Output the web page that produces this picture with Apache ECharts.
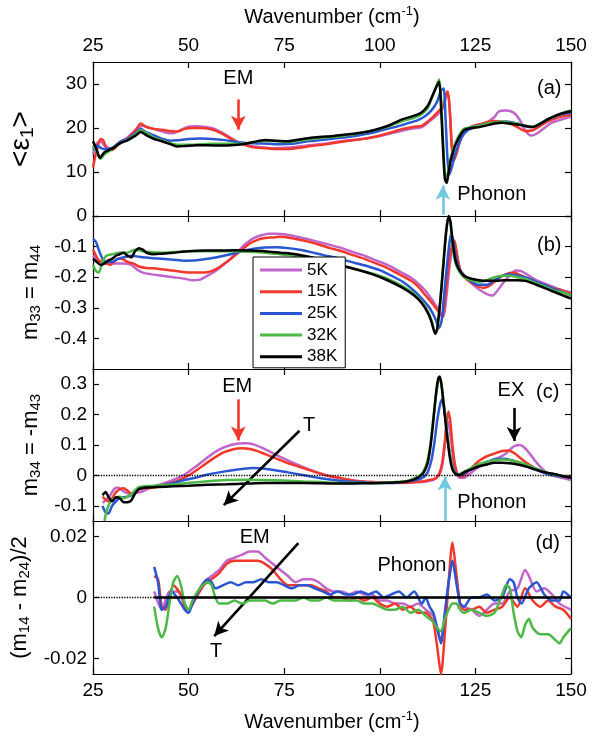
<!DOCTYPE html>
<html><head><meta charset="utf-8">
<script src="https://cdn.jsdelivr.net/npm/echarts@6/dist/echarts.min.js"></script>
<style>html,body{margin:0;padding:0;background:#fff}#c{width:606px;height:738px}</style>
</head><body><div id="c"></div>
<script>
// ---------- DATA ----------
const tempLabels = ['5K', '15K', '25K', '32K', '38K'];
const xTicks = [25, 50, 75, 100, 125, 150];
const yTicksA = [0, 10, 20, 30];
const yTicksB = [-0.4, -0.3, -0.2, -0.1];
const yTicksC = [-0.1, 0, 0.1, 0.2, 0.3];
const yTicksD = [-0.02, 0, 0.02];

// Panel (a) <eps1>
const a5K = [[25,14],[26,16.5],[27,17],[28,16],[30,15.2],[32,16.8],[34,17.8],[36,19.5],[38,20.5],[40,20],[42,19.5],[44,19],[46,18.8],[48,19.6],[50,20.3],[52,20.4],[54,20.3],[56,20],[58,19.3],[60,18.3],[62,17.2],[64,16.4],[66,15.9],[69,15.6],[72,15.4],[75,15.5],[78,15.7],[81,16],[84,16.3],[87,16.6],[90,17],[93,17.3],[96,17.6],[99,18],[102,18.6],[105,19.2],[108,19.8],[111,20.2],[113,21.5],[115,23],[116.5,24.5],[117.3,27],[117.8,28],[118.3,24],[118.8,16.5],[119.3,13],[120,14.5],[121,17.5],[122,19.2],[124,20.3],[126,20.8],[128,21.3],[130,22.5],[131,23.7],[133,24],[135,23.5],[136.5,22],[138,19.5],[139.5,18.3],[141,18.7],[143,20],[145,21.2],[147,21.8],[150,22.6]];
const a15K = [[25,11],[25.7,14],[26.3,16],[27,17.5],[27.7,17.2],[28.5,15.5],[30,15],[32,16.5],[34,17.6],[36,19.3],[37.5,21],[39,20.2],[41,19.8],[43,19.6],[45,19.3],[47,19.2],[49,19.8],[51,20],[53,20],[55,19.9],[57,19.4],[59,18.6],[61,17.6],[63,16.7],[65,16.1],[67,15.6],[70,15.4],[73,15.2],[76,15.2],[79,15.5],[82,15.9],[85,16.2],[88,16.6],[91,17],[94,17.3],[97,17.7],[100,18.3],[103,19],[106,19.8],[109,20.3],[111,20.5],[113,21.8],[115,23.5],[116.5,25],[117.3,27.5],[117.8,28.3],[118.3,24],[118.8,16],[119.3,12.5],[120,14],[121,17],[122,19],[124,20.3],[126,20.8],[128,21.3],[130,21.6],[132,21.4],[134,21],[136,20.2],[138,19.3],[140,19.5],[142,20.5],[144,21.5],[146,22.2],[148,22.7],[150,23]];
const a25K = [[25,15],[26,16],[27,15.5],[28,15.2],[30,15.5],[32,16.8],[34,17.5],[36,18.8],[37.5,19.8],[39,19],[41,18.3],[43,17.6],[45,17.1],[47,17.2],[50,17.5],[53,17.6],[56,17.5],[59,17.3],[62,16.9],[65,16.6],[68,16.5],[71,16.4],[74,16.3],[77,16.4],[80,16.8],[83,17.1],[86,17.4],[89,17.7],[92,18],[95,18.4],[98,18.9],[101,19.6],[104,20.2],[107,21],[110,21.8],[112,22.8],[113.5,24],[115,26],[116,28.5],[116.7,29],[117.2,22],[117.7,13],[118.2,9.5],[118.8,11],[119.5,13.5],[120.5,16],[121.5,18],[123,19.5],[125,20.2],[127,20.8],[129,21],[131,21.3],[133,21.5],[135,21.2],[137,20.7],[139,20.2],[141,20.5],[143,21.5],[145,22.3],[147,23],[150,23.5]];
const a32K = [[25,16],[26,14.5],[27,13],[28,14],[30,15.2],[32,16.5],[34,17.3],[36,18.5],[37.5,19.5],[39,18.8],[41,17.8],[43,17.2],[45,16.6],[47,16.2],[50,16.2],[53,16.3],[56,16.4],[60,16.4],[64,16.4],[67,16.8],[70,17.1],[73,17],[76,16.8],[79,17.1],[82,17.5],[85,17.8],[88,18],[91,18.3],[94,18.7],[97,19.2],[100,19.8],[103,20.6],[106,21.6],[109,22.3],[111,23.2],[112.5,24.5],[113.5,26.5],[114.5,28.8],[115.5,31],[116,27],[116.5,18],[117,10],[117.5,8.5],[118,10.5],[118.5,13],[119.5,16],[120.5,18],[122,19.8],[124,20.2],[126,20.5],[128,21],[130,21.2],[132,21.5],[134,21.2],[136,21],[138,20.5],[140,20.3],[142,21],[144,22],[146,22.8],[148,23.5],[150,24]];
const a38K = [[25,17],[26,15],[26.8,13.2],[28,14.5],[30,15.3],[32,16.5],[34,17.2],[36,18.2],[37.5,19.1],[39,18.3],[41,17.5],[43,17],[45,16.4],[47,15.8],[49,15.9],[52,16.1],[55,16.1],[58,16],[61,16.1],[64,16.3],[67,16.8],[70,17.3],[73,17.1],[76,17],[79,17.4],[82,17.8],[85,18],[88,18.2],[91,18.5],[94,18.8],[97,19.2],[100,19.9],[103,20.8],[106,22],[109,22.8],[111,23.6],[112.5,25],[113.5,26.8],[114.5,28.8],[115.5,30.5],[116,25],[116.5,16],[117,8.5],[117.5,7.5],[118,10],[118.5,12.5],[119.5,15.5],[120.5,17.5],[122,19.5],[124,20],[126,20.2],[128,20.6],[130,21],[132,21.2],[134,21],[136,20.8],[138,20.5],[140,20.2],[142,21],[144,22],[146,22.8],[148,23.4],[150,23.8]];

// Panel (b) m33 = m44
const b5K = [[25,-0.13],[26,-0.14],[27,-0.15],[28,-0.155],[29.5,-0.155],[31,-0.155],[33,-0.155],[35,-0.16],[36.5,-0.175],[38,-0.185],[40,-0.19],[43,-0.195],[46,-0.2],[49,-0.205],[51,-0.21],[53,-0.208],[55,-0.195],[57,-0.18],[59,-0.16],[61,-0.14],[63,-0.115],[65,-0.09],[67,-0.072],[69,-0.063],[71,-0.058],[73,-0.058],[75,-0.06],[78,-0.067],[81,-0.075],[84,-0.085],[87,-0.095],[90,-0.105],[93,-0.118],[96,-0.13],[99,-0.145],[102,-0.16],[105,-0.18],[108,-0.2],[110,-0.22],[112,-0.245],[114,-0.28],[115.5,-0.31],[116.5,-0.33],[117,-0.31],[117.7,-0.23],[118.4,-0.15],[119.2,-0.1],[119.7,-0.1],[120.3,-0.14],[121,-0.175],[122.5,-0.2],[124,-0.22],[126,-0.24],[128,-0.255],[129.5,-0.26],[131,-0.24],[132.5,-0.215],[134,-0.195],[135.5,-0.178],[137,-0.18],[139,-0.195],[141,-0.21],[143,-0.22],[145,-0.23],[147,-0.24],[150,-0.25]];
const b15K = [[25,-0.11],[25.8,-0.13],[26.5,-0.145],[27.5,-0.15],[28.5,-0.155],[29.5,-0.16],[30.5,-0.15],[31.5,-0.14],[32.5,-0.14],[34,-0.15],[35.5,-0.155],[37,-0.165],[39,-0.17],[42,-0.172],[45,-0.177],[48,-0.182],[51,-0.185],[54,-0.185],[56,-0.18],[58,-0.168],[60,-0.15],[62,-0.13],[64,-0.11],[66,-0.09],[68,-0.078],[70,-0.072],[72,-0.07],[74,-0.068],[76,-0.07],[78,-0.075],[81,-0.083],[84,-0.093],[87,-0.105],[90,-0.115],[93,-0.128],[96,-0.14],[99,-0.155],[102,-0.17],[105,-0.19],[108,-0.21],[110,-0.23],[112,-0.26],[114,-0.29],[115.5,-0.315],[116.3,-0.33],[116.8,-0.3],[117.5,-0.22],[118.2,-0.14],[119,-0.09],[119.5,-0.08],[120,-0.11],[120.7,-0.16],[121.5,-0.19],[123,-0.21],[125,-0.225],[127,-0.235],[129,-0.225],[131,-0.205],[133,-0.19],[135,-0.185],[137,-0.195],[139,-0.205],[141,-0.215],[143,-0.225],[145,-0.235],[147,-0.24],[150,-0.255]];
const b25K = [[25,-0.075],[25.8,-0.085],[26.5,-0.11],[27.5,-0.14],[28.5,-0.15],[30,-0.15],[31.5,-0.14],[33,-0.135],[35,-0.13],[37,-0.133],[40,-0.137],[43,-0.14],[46,-0.143],[49,-0.146],[52,-0.145],[55,-0.14],[58,-0.133],[61,-0.125],[64,-0.115],[67,-0.107],[70,-0.103],[73,-0.102],[76,-0.105],[79,-0.11],[82,-0.118],[85,-0.127],[88,-0.135],[91,-0.145],[94,-0.155],[97,-0.165],[100,-0.177],[103,-0.195],[106,-0.215],[109,-0.245],[111,-0.27],[113,-0.3],[114.5,-0.335],[115.5,-0.365],[116.2,-0.34],[116.8,-0.26],[117.5,-0.17],[118.3,-0.08],[118.8,-0.06],[119.3,-0.09],[120,-0.14],[121,-0.18],[122.5,-0.2],[124,-0.215],[126,-0.225],[128,-0.225],[130,-0.21],[132,-0.195],[134,-0.19],[136,-0.195],[138,-0.2],[140,-0.21],[142,-0.22],[144,-0.23],[146,-0.24],[148,-0.25],[150,-0.26]];
const b32K = [[25,-0.16],[25.8,-0.18],[26.5,-0.185],[27.5,-0.15],[28.5,-0.13],[30,-0.125],[32,-0.12],[34,-0.12],[35,-0.115],[36,-0.11],[38,-0.115],[40,-0.118],[43,-0.12],[46,-0.118],[50,-0.115],[54,-0.115],[58,-0.115],[62,-0.115],[66,-0.117],[70,-0.12],[74,-0.125],[78,-0.13],[82,-0.14],[86,-0.15],[90,-0.162],[94,-0.175],[98,-0.188],[102,-0.205],[106,-0.23],[109,-0.255],[111,-0.28],[112.5,-0.31],[113.5,-0.34],[114.5,-0.38],[115,-0.37],[115.8,-0.28],[116.5,-0.17],[117.3,-0.05],[118,0],[118.5,-0.03],[119,-0.09],[119.7,-0.15],[120.5,-0.175],[122,-0.2],[124,-0.21],[126,-0.215],[128,-0.21],[130,-0.2],[132,-0.195],[134,-0.195],[136,-0.2],[138,-0.205],[140,-0.215],[142,-0.225],[144,-0.235],[146,-0.245],[148,-0.25],[150,-0.26]];
const b38K = [[25,-0.14],[26,-0.15],[27,-0.16],[28,-0.155],[29,-0.145],[30,-0.14],[31,-0.13],[32,-0.125],[33,-0.12],[34,-0.13],[35,-0.135],[36,-0.115],[37,-0.105],[38,-0.11],[39,-0.12],[41,-0.125],[43,-0.123],[46,-0.12],[50,-0.115],[54,-0.113],[58,-0.113],[62,-0.112],[66,-0.113],[70,-0.115],[74,-0.12],[78,-0.125],[82,-0.135],[86,-0.148],[90,-0.162],[94,-0.175],[98,-0.19],[102,-0.21],[106,-0.235],[109,-0.26],[111,-0.285],[112.5,-0.315],[113.5,-0.345],[114.5,-0.385],[115,-0.37],[115.8,-0.28],[116.5,-0.18],[117.3,-0.06],[118,0],[118.5,-0.02],[119,-0.08],[119.7,-0.14],[120.5,-0.17],[122,-0.195],[124,-0.205],[126,-0.21],[128,-0.212],[130,-0.212],[133,-0.21],[136,-0.21],[138,-0.212],[140,-0.22],[142,-0.23],[144,-0.24],[146,-0.25],[148,-0.26],[150,-0.27]];

// Panel (c) m34 = -m43
const c5K = [[27.5,-0.09],[28.5,-0.08],[29.5,-0.065],[30.5,-0.045],[31.5,-0.04],[32.5,-0.048],[33.5,-0.056],[34.5,-0.06],[36,-0.058],[38,-0.052],[40,-0.04],[43,-0.028],[46,-0.015],[49,0.003],[52,0.03],[55,0.06],[58,0.085],[61,0.1],[63,0.105],[65,0.106],[67,0.102],[69,0.092],[71,0.08],[73,0.067],[75,0.055],[78,0.038],[81,0.022],[84,0.008],[87,-0.003],[90,-0.01],[94,-0.018],[98,-0.022],[102,-0.024],[106,-0.025],[109,-0.023],[112,-0.02],[114,-0.015],[115.5,0],[116.3,0.03],[117,0.1],[117.7,0.18],[118.3,0.15],[118.9,0.09],[119.5,0.03],[120.3,0],[121,-0.008],[122,-0.008],[123.5,0.005],[125,0.02],[127,0.035],[129,0.048],[131,0.058],[133,0.072],[134.5,0.09],[135.5,0.098],[136.5,0.1],[137.5,0.095],[139,0.075],[140.5,0.05],[142,0.028],[143.5,0.01],[145,0],[147,-0.006],[150,-0.015]];
const c15K = [[27.5,-0.07],[28.3,-0.08],[29,-0.085],[30,-0.075],[31,-0.055],[32,-0.045],[33,-0.042],[34,-0.05],[35,-0.06],[36,-0.055],[37,-0.045],[39,-0.042],[41,-0.04],[44,-0.03],[47,-0.018],[50,0],[53,0.025],[56,0.052],[59,0.075],[62,0.087],[64,0.089],[66,0.087],[68,0.08],[70,0.07],[72,0.06],[75,0.045],[78,0.032],[81,0.02],[84,0.008],[87,-0.003],[90,-0.01],[94,-0.018],[98,-0.022],[102,-0.024],[106,-0.024],[109,-0.022],[111,-0.02],[113,-0.015],[114.5,-0.01],[115.5,0.005],[116.3,0.04],[117,0.11],[117.5,0.18],[118,0.21],[118.5,0.17],[119,0.1],[119.6,0.04],[120.3,0.005],[121.2,-0.005],[122.5,0.005],[124,0.025],[126,0.048],[128,0.063],[130,0.072],[132,0.08],[133.5,0.082],[135,0.075],[136.5,0.06],[138,0.045],[140,0.028],[142,0.015],[144,0.006],[146,0.002],[148,-0.003],[150,-0.005]];
const c25K = [[27.5,-0.1],[28.2,-0.12],[29,-0.125],[30,-0.1],[31,-0.085],[32,-0.075],[33,-0.072],[34,-0.07],[35,-0.065],[36,-0.05],[37,-0.042],[40,-0.037],[43,-0.033],[46,-0.025],[49,-0.015],[52,-0.007],[55,0.003],[58,0.01],[61,0.016],[64,0.021],[67,0.024],[70,0.022],[73,0.016],[76,0.01],[79,0.003],[82,-0.004],[85,-0.01],[88,-0.015],[91,-0.019],[94,-0.022],[97,-0.024],[100,-0.025],[104,-0.024],[107,-0.02],[110,-0.014],[111.5,-0.005],[112.5,0.01],[113.5,0.05],[114.3,0.11],[115,0.18],[115.8,0.235],[116.3,0.25],[116.9,0.22],[117.5,0.15],[118.2,0.08],[119,0.03],[120,0.005],[121,0],[122.5,0.01],[124.5,0.025],[126.5,0.037],[128.5,0.047],[130.5,0.054],[132.5,0.055],[134.5,0.05],[136.5,0.042],[138.5,0.032],[140.5,0.02],[142.5,0.01],[144.5,0.002],[146.5,-0.002],[148,-0.004],[150,-0.006]];
const c32K = [[28,-0.15],[28.5,-0.12],[29.2,-0.095],[30,-0.08],[31,-0.072],[32,-0.07],[33,-0.075],[34,-0.07],[35,-0.062],[36,-0.05],[37,-0.038],[39,-0.035],[42,-0.033],[46,-0.03],[50,-0.025],[55,-0.019],[60,-0.015],[65,-0.014],[70,-0.015],[75,-0.017],[80,-0.02],[85,-0.022],[90,-0.025],[95,-0.025],[100,-0.025],[104,-0.022],[107,-0.018],[109,-0.01],[110.5,0],[111.5,0.015],[112.5,0.05],[113.3,0.11],[114,0.19],[114.8,0.27],[115.5,0.315],[116,0.31],[116.6,0.25],[117.3,0.17],[118,0.1],[118.7,0.04],[119.5,0.01],[120.5,0.003],[122,0.012],[124,0.025],[126,0.037],[128,0.045],[130,0.05],[132,0.052],[134,0.05],[136,0.045],[138,0.037],[140,0.027],[142,0.017],[144,0.008],[146,0.002],[148,-0.003],[150,-0.007]];
const c38K = [[27.5,-0.065],[28.3,-0.055],[29,-0.07],[30,-0.085],[31,-0.072],[32,-0.075],[33,-0.088],[34,-0.088],[35,-0.082],[36,-0.06],[37,-0.045],[39,-0.04],[42,-0.038],[46,-0.036],[50,-0.034],[55,-0.031],[60,-0.029],[65,-0.027],[70,-0.025],[75,-0.025],[80,-0.025],[85,-0.026],[90,-0.027],[95,-0.026],[100,-0.025],[104,-0.023],[107,-0.02],[109,-0.013],[110.5,-0.003],[111.5,0.01],[112.5,0.04],[113.3,0.1],[114,0.18],[114.7,0.27],[115.3,0.32],[115.7,0.325],[116.2,0.29],[116.8,0.22],[117.5,0.14],[118.3,0.06],[119,0.02],[120,0.003],[121,0.002],[122,0.01],[124,0.02],[126,0.03],[128,0.036],[130,0.042],[132,0.042],[134,0.04],[136,0.036],[138,0.03],[140,0.022],[142,0.014],[144,0.008],[146,0.004],[148,-0.003],[150,-0.008]];

// Panel (d) (m14 - m24)/2
const d5K = [[41,0.002],[43,-0.004],[45,0.002],[47,0.002],[50,-0.004],[52,0.001],[54,0.005],[56,0.007],[58,0.009],[60,0.012],[62,0.013],[64,0.014],[66,0.015],[68,0.015],[70,0.013],[72,0.011],[74,0.009],[76,0.007],[78,0.005],[80,0.006],[82,0.006],[84,0.005],[86,0.003],[88,0.002],[90,0.002],[92,0.001],[94,0.002],[96,0.001],[98,0.001],[100,-0.001],[102,-0.001],[104,-0.002],[106,-0.002],[108,-0.003],[110,-0.002],[112,-0.004],[114,-0.006],[115,-0.01],[116,-0.014],[117,-0.006],[118,0.005],[119,0.012],[120,0.006],[121,-0.002],[122,-0.003],[124,-0.004],[126,-0.006],[128,-0.004],[130,-0.002],[132,-0.002],[134,0.002],[136,0.003],[138,0.009],[139,0.007],[141,0.002],[143,0.003],[145,0.001],[147,-0.002],[150,-0.004]];
const d15K = [[41,0.007],[42,0.006],[43,-0.003],[44,-0.004],[46,0.004],[48,0.001],[49,-0.003],[50,-0.004],[52,0],[54,0.004],[56,0.006],[58,0.008],[60,0.011],[62,0.012],[64,0.012],[66,0.012],[68,0.012],[70,0.011],[72,0.009],[74,0.006],[76,0.004],[78,0.004],[80,0.004],[82,0.004],[84,0.003],[86,0.002],[88,0],[90,0],[92,-0.001],[94,0],[96,-0.001],[98,0],[100,-0.002],[102,-0.003],[104,-0.002],[106,-0.004],[108,-0.003],[110,-0.005],[112,-0.005],[113,-0.006],[114,-0.008],[115,-0.016],[116,-0.025],[117,-0.012],[118,0.005],[119,0.018],[120,0.008],[121,-0.002],[122,-0.004],[124,-0.004],[126,-0.003],[128,-0.005],[130,-0.004],[132,-0.003],[134,0],[136,-0.003],[138,0.003],[140,-0.001],[142,-0.003],[144,-0.001],[146,-0.003],[148,-0.004],[150,-0.007]];
const d25K = [[41,0.01],[42,0.005],[43,-0.004],[44,-0.003],[45.5,0.002],[47,0],[49,-0.004],[50,-0.005],[51,-0.002],[53,0.003],[55,0.006],[56,0.005],[57,0.003],[59,0.004],[61,0.005],[63,0.004],[65,0.005],[67,0.005],[69,0.006],[71,0.005],[73,0.005],[75,0.004],[77,0.003],[79,0.004],[81,0.004],[83,0.003],[85,0.002],[87,0.001],[89,0.002],[91,0.001],[93,0.001],[95,0.002],[97,0.001],[99,0.002],[101,0],[103,0.001],[105,0.002],[107,0],[109,0.002],[111,-0.002],[112,0],[113,-0.003],[114,-0.005],[115,-0.01],[116,-0.015],[117,-0.005],[118,0.005],[119,0.012],[120,0.005],[121,-0.002],[122,-0.003],[124,0],[126,0],[128,0.001],[130,-0.001],[132,0],[134,0.006],[135,0.005],[136,0],[137,-0.002],[139,0.003],[141,0.005],[143,0.001],[145,-0.001],[147,-0.001],[148,0.002],[150,0]];
const d32K = [[41,-0.003],[42,-0.01],[43,-0.013],[44,-0.01],[45,-0.002],[46,0.005],[47,0.007],[48,0.004],[49,-0.002],[50,-0.004],[51,-0.001],[53,0.003],[55,0.005],[56,0.004],[57,0],[58,-0.002],[60,-0.002],[62,-0.001],[64,-0.002],[66,-0.001],[68,-0.001],[70,-0.001],[72,-0.002],[74,-0.001],[76,-0.001],[78,-0.001],[80,0],[82,-0.001],[84,-0.001],[86,0],[88,-0.001],[90,-0.001],[92,-0.001],[94,-0.001],[96,-0.002],[98,-0.002],[100,-0.003],[102,-0.004],[104,-0.004],[106,-0.003],[108,-0.005],[110,-0.004],[112,-0.006],[114,-0.008],[115,-0.01],[116,-0.011],[117,-0.007],[118,-0.004],[119,-0.002],[120,-0.002],[121,-0.004],[122,-0.005],[124,-0.004],[126,-0.005],[128,-0.006],[130,-0.005],[132,0.001],[133,0.004],[134,0.003],[135,-0.005],[136,-0.011],[137,-0.013],[138,-0.009],[139,-0.007],[140,-0.01],[142,-0.012],[144,-0.012],[146,-0.014],[147,-0.015],[148,-0.013],[150,-0.01]];
const d38K = [[41,0],[150,0]];

// ---------- STYLE / LAYOUT ----------
const COLORS = ['#c165cb', '#f2372b', '#2a56d2', '#4cb845', '#000000'];
const FONT = 'Liberation Sans, Arial, sans-serif';
const TICK_FS = 19;
const panels = [
  {top: 62, height: 154, min: 0, max: 35, ticks: yTicksA, labels: yTicksA, data: [a5K, a15K, a25K, a32K, a38K]},
  {top: 216, height: 153, min: -0.5, max: 0, ticks: [-0.4,-0.3,-0.2,-0.1,0], labels: yTicksB, data: [b5K, b15K, b25K, b32K, b38K]},
  {top: 369, height: 152, min: -0.15, max: 0.35, ticks: yTicksC, labels: yTicksC, data: [c5K, c15K, c25K, c32K, c38K]},
  {top: 521, height: 153, min: -0.025, max: 0.025, ticks: yTicksD, labels: yTicksD, data: [d5K, d15K, d25K, d32K, d38K]}
];
const yNames = [
  {text: '{t|<ε}{s|1}{t|>}', gap: 56, size: 28, sub: 19},
  {text: '{t|m}{s|33}{t| = m}{s|44}', gap: 48, size: 22, sub: 15},
  {text: '{t|m}{s|34}{t| = -m}{s|43}', gap: 48, size: 22, sub: 15},
  {text: '{t|(m}{s|14}{t| - m}{s|24}{t|)/2}', gap: 53, size: 22, sub: 15}
];
const wnName = '{t|Wavenumber (cm}{p|-1}{t|)}';
const wnRich = {t: {fontSize: 20, fontFamily: FONT, color: '#000'}, p: {fontSize: 13, fontFamily: FONT, color: '#000', padding: [0, 0, 11, 0]}};

const tickStyle = {inside: true, length: 6, lineStyle: {color: '#000', width: 1.2}};
const lineAx = {show: true, onZero: false, lineStyle: {color: '#000', width: 1.2}};

const grid = [], xAxis = [], yAxis = [], series = [];
panels.forEach((p, i) => {
  grid.push({left: 93, width: 478, top: p.top, height: p.height, containLabel: false, outerBoundsMode: 'none'});
  xAxis.push({type: 'value', gridIndex: i, position: 'bottom', min: 25, max: 150, interval: 25,
    axisLine: lineAx, axisTick: tickStyle, splitLine: {show: false},
    axisLabel: {show: i === 3, fontSize: TICK_FS, fontFamily: FONT, color: '#000', margin: 7},
    name: i === 3 ? wnName : '', nameLocation: 'middle', nameGap: 36, nameTextStyle: {rich: wnRich}});
  xAxis.push({type: 'value', gridIndex: i, position: 'top', min: 25, max: 150, interval: 25,
    axisLine: lineAx, axisTick: tickStyle, splitLine: {show: false},
    axisLabel: {show: i === 0, fontSize: TICK_FS, fontFamily: FONT, color: '#000', margin: 7},
    name: i === 0 ? wnName : '', nameLocation: 'middle', nameGap: 33, nameTextStyle: {rich: wnRich}});
  const yn = yNames[i];
  yAxis.push({type: 'value', gridIndex: i, position: 'left', min: p.min, max: p.max,
    axisLine: lineAx, splitLine: {show: false},
    axisTick: Object.assign({customValues: p.ticks}, tickStyle),
    axisLabel: {customValues: p.labels, fontSize: TICK_FS, fontFamily: FONT, color: '#000', margin: 6},
    name: yn.text, nameLocation: 'middle', nameRotate: 90, nameGap: yn.gap,
    nameTextStyle: {rich: {t: {fontSize: yn.size, fontFamily: FONT, color: '#000'},
      s: {fontSize: yn.sub, fontFamily: FONT, color: '#000', padding: [Math.round(yn.sub * 0.65), 0, 0, 0]}}}});
  yAxis.push({type: 'value', gridIndex: i, position: 'right', min: p.min, max: p.max,
    axisLine: lineAx, splitLine: {show: false},
    axisTick: Object.assign({customValues: p.ticks}, tickStyle),
    axisLabel: {show: false}});
  p.data.forEach((d, k) => {
    series.push({type: 'line', name: tempLabels[k], xAxisIndex: 2 * i, yAxisIndex: 2 * i, data: d,
      showSymbol: false, symbol: 'none', smooth: 0.25, z: 2 + k,
      lineStyle: {width: 2.5, color: COLORS[k]}, itemStyle: {color: COLORS[k]}});
  });
});

// ---------- ANNOTATIONS (in data coordinates) ----------
function arrow(x0, y0, x1, y1, color) {
  return [{coord: [x0, y0], lineStyle: {color: color, width: 2.6, type: 'solid'}}, {coord: [x1, y1]}];
}
function txt(x, y, s, size) {
  return {coord: [x, y], value: s, label: {formatter: s, fontSize: size || 20}};
}
const RED = '#f2372b', CYAN = '#6fcadf', BLK = '#000';
const annot = [
  {arrows: [arrow(63, 26.5, 63, 19.6, RED), arrow(116.5, 0.3, 116.5, 6.9, CYAN)],
   texts: [txt(63, 31.2, 'EM'), txt(144.3, 29, '(a)'), txt(129.3, 4.8, 'Phonon')], zero: false},
  {arrows: [], texts: [txt(144.3, -0.095, '(b)')], zero: false},
  {arrows: [arrow(63, 0.25, 63, 0.115, RED), arrow(79, 0.147, 59.2, -0.098, BLK), arrow(135.1, 0.222, 135.1, 0.113, BLK), arrow(117, -0.15, 117, -0.004, CYAN)],
   texts: [txt(62.7, 0.294, 'EM'), txt(81.5, 0.163, 'T'), txt(134.3, 0.278, 'EX'), txt(143.9, 0.272, '(c)'), txt(129.3, -0.09, 'Phonon')], zero: true},
  {arrows: [arrow(78.7, 0.0178, 56.7, -0.0126, BLK)],
   texts: [txt(67.3, 0.0197, 'EM'), txt(57.2, -0.0178, 'T'), txt(108.4, 0.0104, 'Phonon'), txt(143.9, 0.0175, '(d)')], zero: true}
];
annot.forEach((a, i) => {
  if (a.zero) {
    series.push({type: 'line', xAxisIndex: 2 * i, yAxisIndex: 2 * i, data: [], z: 1, silent: true,
      markLine: {silent: true, symbol: 'none', label: {show: false}, animation: false,
        lineStyle: {type: 'dotted', color: '#000', width: 1.3}, data: [{yAxis: 0}]}});
  }
  series.push({type: 'line', xAxisIndex: 2 * i, yAxisIndex: 2 * i, data: [], z: 20, silent: true,
    markLine: {silent: true, symbol: ['none', 'arrow'], symbolSize: [11, 14], label: {show: false}, animation: false, data: a.arrows},
    markPoint: {silent: true, symbol: 'rect', symbolSize: 1, animation: false,
      itemStyle: {color: 'rgba(0,0,0,0)'},
      label: {show: true, position: 'inside', color: '#000', fontFamily: FONT, fontSize: 20},
      data: a.texts}});
});

const option = {
  backgroundColor: '#ffffff',
  animation: false,
  grid, xAxis, yAxis, series,
  legend: {
    data: tempLabels, orient: 'vertical', left: 253, top: 257,
    icon: 'rect', itemWidth: 42, itemHeight: 3, itemGap: 3.7, itemTextGap: 5,
    padding: [4, 8, 2, 7], borderColor: '#000', borderWidth: 1, backgroundColor: '#fff',
    textStyle: {fontSize: 17, fontFamily: FONT, color: '#000', lineHeight: 18},
    selectedMode: false, z: 30
  }
};
const chart = echarts.init(document.getElementById('c'), null, {renderer: 'canvas'});
chart.setOption(option);
</script>
</body></html>
